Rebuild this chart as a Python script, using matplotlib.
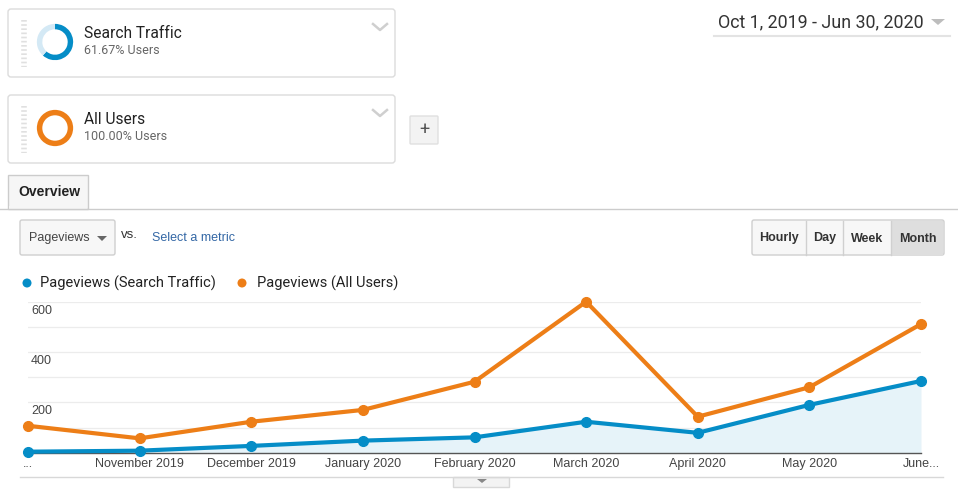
import matplotlib
matplotlib.use("Agg")
import matplotlib.pyplot as plt
from matplotlib.patches import FancyBboxPatch, Rectangle, Polygon, Circle
from matplotlib.transforms import blended_transform_factory, offset_copy

# ---------------- data ----------------
months = ["...", "November 2019", "December 2019", "January 2020", "February 2020",
          "March 2020", "April 2020", "May 2020", "June..."]
search_traffic = [4, 8, 27, 48, 61, 123, 79, 190, 285]
all_users = [107, 57, 123, 170, 282, 600, 143, 260, 511]
ytick_vals = [200, 400, 600]
grid_vals = [100, 200, 300, 400, 500, 600]
segment_names = ["Search Traffic", "All Users"]
segment_pcts = [61.67, 100.00]
date_range = "Oct 1, 2019 - Jun 30, 2020"
legend_labels = ["Pageviews (Search Traffic)", "Pageviews (All Users)"]
buttons = ["Hourly", "Day", "Week", "Month"]

BLUE = "#058dc7"
ORANGE = "#ed7e17"
LIGHTBLUE = "#d4e9f5"

W, H = 958, 493
fig = plt.figure(figsize=(W / 100, H / 100), dpi=100)
fig.patch.set_facecolor("white")

UI = ["Roboto", "DejaVu Sans"]
CH = ["Liberation Sans", "DejaVu Sans"]

# overlay in pixel coordinates
ov = fig.add_axes([0, 0, 1, 1])
ov.set_xlim(0, W)
ov.set_ylim(H, 0)
ov.axis("off")
ov.set_zorder(0)


def rbox(x0, y0, x1, y1, fc="white", ec="#dcdcdc", r=3, lw=1):
    p = FancyBboxPatch((x0, y0), x1 - x0, y1 - y0,
                       boxstyle=f"round,pad=0,rounding_size={r}",
                       fc=fc, ec=ec, lw=lw, mutation_aspect=1)
    ov.add_patch(p)


def px2fig(x0, y0, x1, y1):
    return [x0 / W, 1 - y1 / H, (x1 - x0) / W, (y1 - y0) / H]


# segment cards
for i, (name, pct, col) in enumerate(zip(segment_names, segment_pcts, [BLUE, ORANGE])):
    top = 9 + i * 86
    rbox(8, top, 395, top + 68)
    # drag handle
    ov.plot([24, 24], [top + 11, top + 58], color="#e0e0e0", lw=4.0,
            linestyle=(0, (0.3, 0.45)), solid_capstyle="butt")
    # chevron
    ov.plot([373, 380, 387], [top + 15, top + 21, top + 15], color="#cfcfcf", lw=1.8)
    # donut
    dax = fig.add_axes(px2fig(36.5, top + 14.5, 73.5, top + 51.5))
    if pct < 100:
        dax.pie([pct, 100 - pct], colors=[col, LIGHTBLUE], startangle=90,
                counterclock=False, wedgeprops=dict(width=0.3, lw=0))
    else:
        dax.pie([pct], colors=[col], startangle=90, wedgeprops=dict(width=0.3, lw=0))
    dax.set_xlim(-1.02, 1.02)
    dax.set_ylim(-1.02, 1.02)
    dax.set_aspect("equal")
    ov.text(84, top + 24, name, fontsize=11.2, family=UI, color="#222222", va="center")
    ov.text(84, top + 42, f"{pct:.2f}% Users", fontsize=9, family=UI,
            color="#666666", va="center")

# plus button
rbox(410, 116, 438, 144, fc="#f3f3f3", ec="#e0e0e0", r=1)
ov.text(424, 130, "+", fontsize=13, family=UI, color="#555555", ha="center", va="center")

# date range
ov.text(718, 22, date_range, fontsize=12.9, family=UI, color="#333333", va="center")
ov.add_patch(Polygon([[931, 19], [945, 19], [938, 25]], closed=True, fc="#bdbdbd", ec="none"))
ov.plot([714, 950], [35.5, 35.5], color="#e3e3e3", lw=1.5)

# overview tab
ov.plot([0, W], [208.5, 208.5], color="#cccccc", lw=1)
ov.add_patch(Rectangle((8, 175), 80, 34, fc="#f6f6f6", ec="#cccccc", lw=1))
ov.add_patch(Rectangle((8.7, 206), 78.6, 4, fc="#f6f6f6", ec="none"))
ov.text(18, 192, "Overview", fontsize=10, family=CH, weight="bold",
        color="#222222", va="center")

# metric selector
rbox(20, 220, 115, 255, fc="#f7f7f7", ec="#cfcfcf", r=2)
ov.text(29, 238, "Pageviews", fontsize=9, family=CH, color="#444444", va="center")
ov.add_patch(Polygon([[97, 236], [107, 236], [102, 241]], closed=True, fc="#666666", ec="none"))
ov.text(121, 235, "vs.", fontsize=9.5, family=CH, color="#333333", va="center")
ov.text(152, 238, "Select a metric", fontsize=9, family=CH, color="#3367a5", va="center")

# time buttons
bx = [752, 806, 843, 891, 944]
rbox(752, 220, 944, 255, fc="#f7f7f7", ec="#cfcfcf", r=2)
ov.add_patch(Rectangle((891, 220.5), 52.5, 34, fc="#dedede", ec="none"))
for xd in bx[1:-1]:
    ov.plot([xd, xd], [220.5, 254.5], color="#d0d0d0", lw=1)
for lbl, a, b in zip(buttons, bx[:-1], bx[1:]):
    ov.text((a + b) / 2, 238.5, lbl, fontsize=9, family=CH, weight="bold",
            color="#333333", ha="center", va="center")

# legend
ov.add_patch(Circle((27, 283), 4.5, fc=BLUE, ec="none"))
ov.text(40, 283, legend_labels[0], fontsize=10.5, family=UI, color="#222222", va="center")
ov.add_patch(Circle((242, 283), 4.5, fc=ORANGE, ec="none"))
ov.text(257, 283, legend_labels[1], fontsize=10.5, family=UI, color="#222222", va="center")

# bottom line and scroll tab
ov.plot([20, 943], [476.5, 476.5], color="#d8d8d8", lw=1)
ov.add_patch(Rectangle((453, 476.5), 56, 10, fc="#f3f3f3", ec="#d8d8d8", lw=1))
ov.add_patch(Polygon([[477, 479], [487, 479], [482, 483]], closed=True, fc="#888888", ec="none"))

# ---------------- chart ----------------
ax = fig.add_axes(px2fig(28, 301.7, 921, 452.7))
ax.set_zorder(2)
ax.patch.set_alpha(0)
x = list(range(len(months)))
ax.set_xlim(0, len(months) - 1)
ax.set_ylim(0, 600)
for g in grid_vals:
    ax.axhline(g, color="#ececec", lw=0.9, zorder=0)
ax.fill_between(x, search_traffic, 0, color="#e6f3f9", zorder=1, lw=0)
ax.plot(x, all_users, color=ORANGE, lw=3.0, marker="o", ms=7, zorder=3,
        clip_on=False, solid_joinstyle="round")
ax.plot(x, search_traffic, color=BLUE, lw=3.0, marker="o", ms=7, zorder=4,
        clip_on=False, solid_joinstyle="round")
for s in ["top", "right", "left"]:
    ax.spines[s].set_visible(False)
ax.spines["bottom"].set_color("#555555")
ax.spines["bottom"].set_linewidth(1)
ax.set_yticks([])
ax.set_xticks(x)
ax.set_xticklabels(months, fontsize=9, family=CH, color="#444444")
ax.tick_params(axis="x", length=0, pad=4)
tr = blended_transform_factory(ax.transAxes, ax.transData)
tr = offset_copy(tr, fig=fig, x=3, y=-9, units="dots")
for v in ytick_vals:
    ax.text(0, v, str(v), transform=tr, fontsize=9, family=CH,
            color="#444444", va="center", ha="left")

fig.savefig("out.png", dpi=100, facecolor="white")
